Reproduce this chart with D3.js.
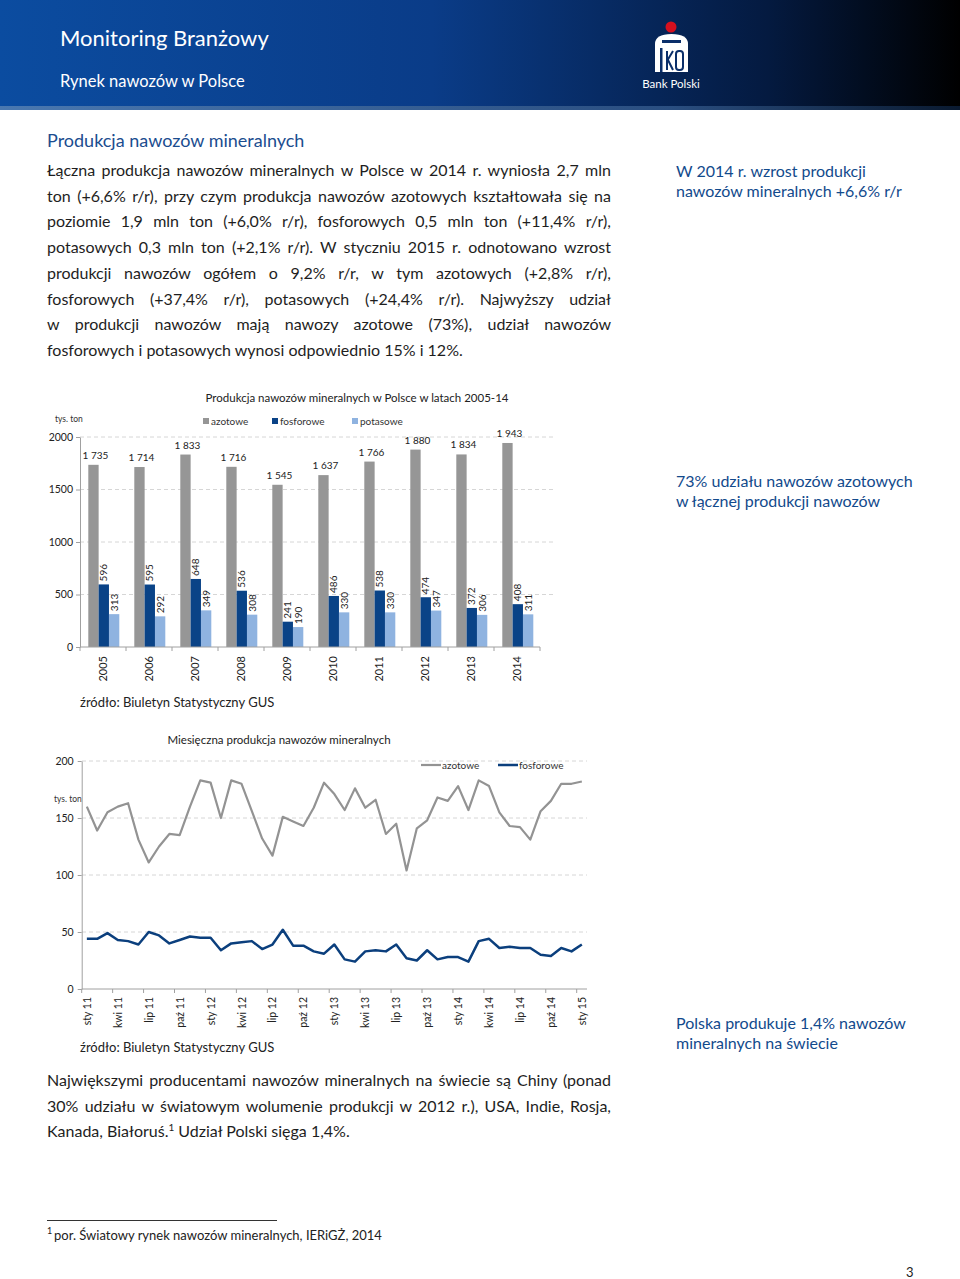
<!DOCTYPE html>
<html><head><meta charset="utf-8">
<script src="https://cdn.jsdelivr.net/npm/d3@7"></script>
<style>
html,body{margin:0;padding:0;background:#fff;}
#page{position:relative;width:960px;height:1279px;overflow:hidden;font-family:Lato,"Open Sans",sans-serif;}
.para{position:absolute;left:47px;width:564px;font-size:16px;line-height:25.7px;color:#1e1e1e;}
.para div{white-space:nowrap;text-align:justify;text-align-last:justify;}
.para div.last{text-align-last:left;}
.para sup{font-size:10px;line-height:0;vertical-align:6px;}
svg{position:absolute;left:0;top:0;}
</style></head>
<body><div id="page"></div>
<script>
// ---------- DATA ----------
const years = ["2005","2006","2007","2008","2009","2010","2011","2012","2013","2014"];
const azotoweYear = [1735,1714,1833,1716,1545,1637,1766,1880,1834,1943];
const fosforoweYear = [596,595,648,536,241,486,538,474,372,408];
const potasoweYear = [313,292,349,308,190,330,330,347,306,311];
const barSeries = ["azotowe","fosforowe","potasowe"];
const barTicks = [0,500,1000,1500,2000];

const monthNames = ["sty","lut","mar","kwi","maj","cze","lip","sie","wrz","paź","lis","gru"];
const monthYears = ["11","12","13","14","15"];
const azotoweMonth = [160,139,155,160,163,131,111,125,136,135,160,183,181,150,183,180,156,132,117,151,147,143,159,181,171,157,176,159,166,136,145,104,141,148,168,165,178,157,183,178,155,143,142,131,156,165,180,180,182];
const fosforoweMonth = [44,44,49,43,42,39,50,47,40,43,46,45,45,34,40,41,42,35,39,52,38,38,33,31,39,26,24,33,34,33,39,27,25,34,26,28,28,24,42,44,36,37,36,36,30,29,36,33,39];
const monthTickLabels = ["sty 11","kwi 11","lip 11","paź 11","sty 12","kwi 12","lip 12","paź 12","sty 13","kwi 13","lip 13","paź 13","sty 14","kwi 14","lip 14","paź 14","sty 15"];
const lineTicks = [0,50,100,150,200];

const paragraph1 = [
"Łączna produkcja nawozów mineralnych w Polsce w 2014 r. wyniosła 2,7 mln",
"ton (+6,6% r/r), przy czym produkcja nawozów azotowych kształtowała się na",
"poziomie 1,9 mln ton (+6,0% r/r), fosforowych 0,5 mln ton (+11,4% r/r),",
"potasowych 0,3 mln ton (+2,1% r/r). W styczniu 2015 r. odnotowano wzrost",
"produkcji nawozów ogółem o 9,2% r/r, w tym azotowych (+2,8% r/r),",
"fosforowych (+37,4% r/r), potasowych (+24,4% r/r). Najwyższy udział",
"w produkcji nawozów mają nawozy azotowe (73%), udział nawozów",
"fosforowych i potasowych wynosi odpowiednio 15% i 12%."
];
const paragraph2 = [
"Największymi producentami nawozów mineralnych na świecie są Chiny (ponad",
"30% udziału w światowym wolumenie produkcji w 2012 r.), USA, Indie, Rosja,",
"Kanada, Białoruś.<sup>1</sup> Udział Polski sięga 1,4%."
];

// ---------- PAGE ----------
const page = d3.select("#page");
function para(lines, top){
  const p = page.append("div").attr("class","para").style("top",top+"px");
  lines.forEach((l,i)=>p.append("div").attr("class", i===lines.length-1?"last":null).html(l));
}
para(paragraph1, 157);
para(paragraph2, 1067);

const svg = page.append("svg").attr("width",960).attr("height",1279);
const defs = svg.append("defs");
const g1 = defs.append("linearGradient").attr("id","hdr").attr("x1","0").attr("x2","1");
g1.append("stop").attr("offset","0").attr("stop-color","#0b4ca0");
g1.append("stop").attr("offset","0.45").attr("stop-color","#0a3c88");
g1.append("stop").attr("offset","0.8").attr("stop-color","#041a40");
g1.append("stop").attr("offset","1").attr("stop-color","#000000");
const g2 = defs.append("linearGradient").attr("id","strip").attr("x1","0").attr("x2","1");
g2.append("stop").attr("offset","0").attr("stop-color","#4a78b0");
g2.append("stop").attr("offset","0.7").attr("stop-color","#2a4e80");
g2.append("stop").attr("offset","1").attr("stop-color","#0a1a30");

svg.append("rect").attr("x",0).attr("y",0).attr("width",960).attr("height",110).attr("fill","url(#hdr)");
svg.append("rect").attr("x",0).attr("y",106).attr("width",960).attr("height",4).attr("fill","url(#strip)");
svg.append("text").attr("x",60).attr("y",46).attr("fill","#fff").attr("font-size",22).attr("font-family","Lato").text("Monitoring Branżowy");
svg.append("text").attr("x",60).attr("y",87).attr("fill","#fff").attr("font-size",16.5).attr("font-family","Lato").text("Rynek nawozów w Polsce");
// logo
svg.append("circle").attr("cx",671).attr("cy",27).attr("r",5.5).attr("fill","#d5101e");
svg.append("path").attr("d","M655,44 Q655,34 671.5,34 Q688,34 688,44 L688,72 L655,72 Z").attr("fill","#fff");
svg.append("rect").attr("x",662).attr("y",40).attr("width",19).attr("height",3).attr("fill","#0b2f6a");
svg.append("rect").attr("x",660).attr("y",48).attr("width",2.5).attr("height",24).attr("fill","#0b2f6a");
svg.append("path").attr("d","M667,51 L667,70 M667,61 L673,51 M668,60 L673,70").attr("stroke","#0b2f6a").attr("stroke-width",2).attr("fill","none");
svg.append("rect").attr("x",676).attr("y",51).attr("width",7).attr("height",19).attr("rx",3).attr("fill","none").attr("stroke","#0b2f6a").attr("stroke-width",2);
svg.append("text").attr("x",671).attr("y",88).attr("text-anchor","middle").attr("fill","#fff").attr("font-size",11.5).attr("font-family","Lato").text("Bank Polski");

// headings and callouts
const blue = "#1b4d8f";
svg.append("text").attr("x",47).attr("y",147).attr("fill",blue).attr("font-size",18).attr("font-family","Lato").text("Produkcja nawozów mineralnych");
function callout(lines,y){
  lines.forEach((l,i)=>svg.append("text").attr("x",676).attr("y",y+i*19.5).attr("fill","#124a8c").attr("font-size",16).attr("font-family","Lato").text(l));
}
callout(["W 2014 r. wzrost produkcji","nawozów mineralnych +6,6% r/r"],177);
callout(["73% udziału nawozów azotowych","w łącznej produkcji nawozów"],487);
callout(["Polska produkuje 1,4% nawozów","mineralnych na świecie"],1029);

// ---------- BAR CHART ----------
const cf = "Lato";
const colors = {azotowe:"#969696", fosforowe:"#0a4387", potasowe:"#8fb3e0"};
const bc = svg.append("g");
const xb = d3.scaleBand().domain(years).range([80,540]);
const xs = d3.scaleBand().domain(barSeries).range([8.3,39.3]);
const yb = d3.scaleLinear().domain([0,2000]).range([647,437]);

bc.append("text").attr("x",357).attr("y",402).attr("text-anchor","middle").attr("font-size",11.5).attr("font-family",cf).attr("fill","#222").text("Produkcja nawozów mineralnych  w Polsce w latach 2005-14");
bc.append("text").attr("x",55).attr("y",422).attr("font-size",8.5).attr("font-family",cf).attr("fill","#333").text("tys. ton");
// legend
const legX = [203,272,352];
barSeries.forEach((s,i)=>{
  bc.append("rect").attr("x",legX[i]).attr("y",418).attr("width",6).attr("height",6).attr("fill",colors[s]);
  bc.append("text").attr("x",legX[i]+8).attr("y",425).attr("font-size",10).attr("font-family",cf).attr("fill","#333").text(s);
});
// grid
bc.selectAll(".gb").data(barTicks.filter(d=>d>0)).enter().append("line")
  .attr("x1",80).attr("x2",556).attr("y1",d=>yb(d)).attr("y2",d=>yb(d))
  .attr("stroke","#d6d6d6").attr("stroke-dasharray","4,3");
// y axis
const yAxB = bc.append("g").attr("transform","translate(80,0)")
  .call(d3.axisLeft(yb).tickValues(barTicks).tickSize(4).tickSizeOuter(0).tickFormat(d3.format("d")));
yAxB.select(".domain").attr("stroke","#a0a0a0");
yAxB.selectAll(".tick line").attr("stroke","#a0a0a0");
yAxB.selectAll(".tick text").attr("font-size",10.5).attr("font-family",cf).attr("fill","#222").attr("x",-7);
// bars
const barData = years.map((y,i)=>({year:y, azotowe:azotoweYear[i], fosforowe:fosforoweYear[i], potasowe:potasoweYear[i]}));
const grp = bc.selectAll(".yr").data(barData).enter().append("g").attr("transform",d=>`translate(${xb(d.year)},0)`);
grp.selectAll("rect").data(d=>barSeries.map(s=>({s,v:d[s]}))).enter().append("rect")
  .attr("x",d=>xs(d.s)).attr("width",xs.bandwidth()).attr("y",d=>yb(d.v)).attr("height",d=>yb(0)-yb(d.v)).attr("fill",d=>colors[d.s]);
const fmt = v => { const s=String(v); return s.length>3 ? s.slice(0,s.length-3)+" "+s.slice(-3) : s; };
grp.append("text").attr("x",d=>xs("azotowe")+xs.bandwidth()/2+2).attr("y",d=>yb(d.azotowe)-6)
  .attr("text-anchor","middle").attr("font-size",10).attr("font-family",cf).attr("fill","#222").text(d=>fmt(d.azotowe));
["fosforowe","potasowe"].forEach(s=>{
  grp.append("text").attr("transform",d=>`translate(${xs(s)+xs.bandwidth()/2+3.5},${yb(d[s])-3}) rotate(-90)`)
    .attr("font-size",10).attr("font-family",cf).attr("fill","#222").text(d=>d[s]);
});
// x axis
bc.append("line").attr("x1",80).attr("x2",540).attr("y1",647).attr("y2",647).attr("stroke","#a0a0a0");
bc.selectAll(".xtb").data(years.concat(["end"])).enter().append("line")
  .attr("x1",d=>d==="end"?540:xb(d)).attr("x2",d=>d==="end"?540:xb(d)).attr("y1",647).attr("y2",651).attr("stroke","#a0a0a0");
bc.selectAll(".xlb").data(years).enter().append("text")
  .attr("transform",d=>`translate(${xb(d)+xb.bandwidth()/2+4},656) rotate(-90)`)
  .attr("text-anchor","end").attr("font-size",11).attr("font-family",cf).attr("fill","#222").text(d=>d);
svg.append("text").attr("x",80).attr("y",707).attr("font-size",13).attr("font-family",cf).attr("fill","#222").text("źródło: Biuletyn Statystyczny GUS");

// ---------- LINE CHART ----------
const lc = svg.append("g");
const months = [];
monthYears.forEach(y=>monthNames.forEach(m=>{ if(months.length<49) months.push(m+" "+y); }));
const xl = d3.scaleBand().domain(months).range([81.7,587]);
const cx = m => xl(m)+xl.bandwidth()/2;
const yl = d3.scaleLinear().domain([0,200]).range([989,761]);

lc.append("text").attr("x",279).attr("y",744).attr("text-anchor","middle").attr("font-size",11.5).attr("font-family",cf).attr("fill","#222").text("Miesięczna produkcja nawozów mineralnych");
lc.append("text").attr("x",54).attr("y",802).attr("font-size",8.5).attr("font-family",cf).attr("fill","#333").text("tys. ton");
lc.selectAll(".gl").data(lineTicks.filter(d=>d>0)).enter().append("line")
  .attr("x1",82).attr("x2",587).attr("y1",d=>yl(d)).attr("y2",d=>yl(d))
  .attr("stroke","#d6d6d6").attr("stroke-dasharray","4,3");
const yAxL = lc.append("g").attr("transform","translate(81.7,0)")
  .call(d3.axisLeft(yl).tickValues(lineTicks).tickSize(4).tickSizeOuter(0));
yAxL.select(".domain").attr("stroke","#a0a0a0");
yAxL.selectAll(".tick line").attr("stroke","#a0a0a0");
yAxL.selectAll(".tick text").attr("font-size",10.5).attr("font-family",cf).attr("fill","#222").attr("x",-8);
lc.append("line").attr("x1",81.7).attr("x2",587).attr("y1",989).attr("y2",989).attr("stroke","#a0a0a0");
const tickMonths = months.filter((m,i)=>i%3===0);
lc.selectAll(".xtl").data(tickMonths).enter().append("line")
  .attr("x1",d=>xl(d)).attr("x2",d=>xl(d)).attr("y1",989).attr("y2",993).attr("stroke","#a0a0a0");
lc.selectAll(".xll").data(tickMonths).enter().append("text")
  .attr("transform",(d,i)=>`translate(${cx(d)+4},997) rotate(-90)`)
  .attr("text-anchor","end").attr("font-size",10.5).attr("font-family",cf).attr("fill","#222")
  .text((d,i)=>monthTickLabels[i]);
const line = d3.line().x((d,i)=>cx(months[i])).y(d=>yl(d));
lc.append("path").datum(azotoweMonth).attr("d",line).attr("fill","none").attr("stroke","#939393").attr("stroke-width",2.2).attr("stroke-linejoin","round");
lc.append("path").datum(fosforoweMonth).attr("d",line).attr("fill","none").attr("stroke","#0b3f7d").attr("stroke-width",2.5).attr("stroke-linejoin","round");
// legend
lc.append("line").attr("x1",421).attr("x2",441).attr("y1",765).attr("y2",765).attr("stroke","#939393").attr("stroke-width",2.2);
lc.append("text").attr("x",442).attr("y",768.5).attr("font-size",10).attr("font-family",cf).attr("fill","#333").text("azotowe");
lc.append("line").attr("x1",498).attr("x2",518).attr("y1",765).attr("y2",765).attr("stroke","#0b3f7d").attr("stroke-width",2.5);
lc.append("text").attr("x",519).attr("y",768.5).attr("font-size",10).attr("font-family",cf).attr("fill","#333").text("fosforowe");
svg.append("text").attr("x",80).attr("y",1052).attr("font-size",13).attr("font-family",cf).attr("fill","#222").text("źródło: Biuletyn Statystyczny GUS");

// footnote
svg.append("line").attr("x1",47).attr("x2",277).attr("y1",1220.5).attr("y2",1220.5).attr("stroke","#333").attr("stroke-width",1);
svg.append("text").attr("x",47).attr("y",1234).attr("font-size",9).attr("font-family",cf).attr("fill","#222").text("1");
svg.append("text").attr("x",54).attr("y",1240).attr("font-size",13).attr("font-family",cf).attr("fill","#222").text("por. Światowy rynek nawozów mineralnych, IERiGŻ, 2014");
svg.append("text").attr("x",906).attr("y",1277).attr("font-size",13).attr("font-family",cf).attr("fill","#222").text("3");
</script>
</body></html>
